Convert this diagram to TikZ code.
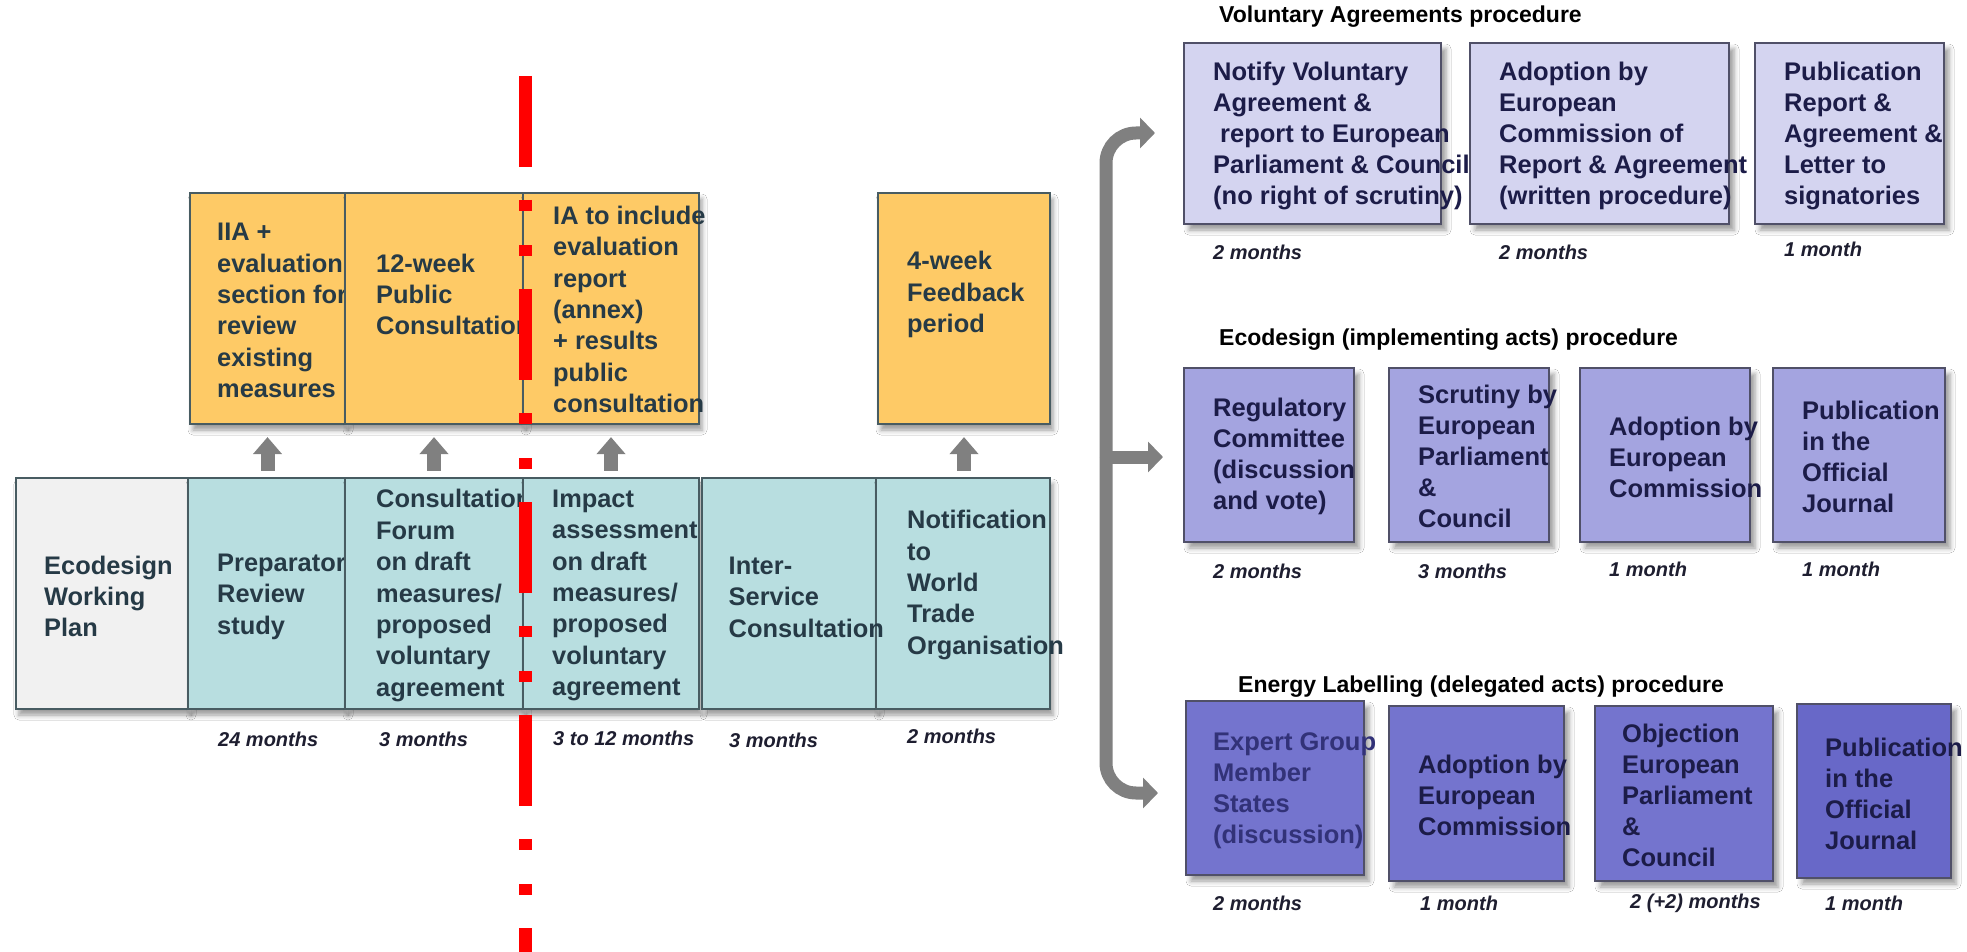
\documentclass[tikz,border=0pt]{standalone}
\usepackage{fontspec}
\setmainfont{Liberation Sans}
\usetikzlibrary{shadows.blur,arrows.meta,calc}

\definecolor{boxorange}{RGB}{254,202,102}
\definecolor{boxteal}{RGB}{184,222,224}
\definecolor{boxgrey}{RGB}{241,241,241}
\definecolor{slate}{RGB}{38,58,70}
\definecolor{slateline}{RGB}{72,92,98}
\definecolor{vafill}{RGB}{212,212,240}
\definecolor{ecfill}{RGB}{164,164,224}
\definecolor{elfill}{RGB}{116,116,206}
\definecolor{elfilldark}{RGB}{104,104,200}
\definecolor{navy}{RGB}{28,28,72}
\definecolor{softnavy}{RGB}{50,50,120}
\definecolor{procline}{RGB}{80,80,104}
\definecolor{arrowgrey}{RGB}{128,128,128}
\definecolor{durcol}{RGB}{30,30,48}

\begin{document}
\begin{tikzpicture}[x=1pt,y=-1pt,
  lbox/.style={draw=slateline, line width=2.2pt, inner sep=0pt,
    blur shadow={shadow xshift=3pt, shadow yshift=-6pt, shadow blur radius=5pt, shadow opacity=40}},
  rbox/.style={draw=procline, line width=1.8pt, inner sep=0pt,
    blur shadow={shadow xshift=5pt, shadow yshift=-6pt, shadow blur radius=5pt, shadow opacity=40}},
  ltext/.style={anchor=west, align=left, inner sep=0pt, text=slate,
    font=\fontsize{25.4}{31.4}\selectfont\bfseries},
  rtext/.style={anchor=west, align=left, inner sep=0pt, text=navy,
    font=\fontsize{25.5}{31}\selectfont\bfseries},
  dur/.style={anchor=west, inner sep=0pt, text=durcol,
    font=\fontsize{20}{24}\selectfont\bfseries\itshape},
  ttl/.style={anchor=west, inner sep=0pt, text=black,
    font=\fontsize{23}{27}\selectfont\bfseries},
  uparr/.style={draw=arrowgrey, line width=14pt,
    -{Triangle[length=17pt,width=28pt]}},
  brk/.style={draw=arrowgrey, line width=13pt, rounded corners=30pt,
    -{Triangle[length=15pt,width=30pt]}},
  redline/.style={draw=red, line width=13pt,
    dash pattern=on 91pt off 33pt on 11pt off 34pt on 11pt off 33pt}
]
\fill[white] (0,0) rectangle (1967,952);
\useasboundingbox (0,0) rectangle (1967,952);

% ---------- top row: consultation documents ----------
\node[lbox, fill=boxorange, minimum width=155, minimum height=231] (iia) at (267.5,308.5) {};
\node[ltext] (t-iia) at (217,310.5) {IIA +\\evaluation\\section for\\review\\existing\\measures};
\node[lbox, fill=boxorange, minimum width=178, minimum height=231] (pubc) at (434,308.5) {};
\node[ltext] (t-pubc) at (376,294.5) {12-week\\Public\\Consultation};
\node[lbox, fill=boxorange, minimum width=176, minimum height=231] (iarep) at (611,308.5) {};
\node[ltext] (t-iarep) at (553,309.5) {IA to include\\evaluation\\report\\(annex)\\+ results\\public\\consultation};
\node[lbox, fill=boxorange, minimum width=172, minimum height=231] (feedback) at (964,308.5) {};
\node[ltext] (t-feedback) at (907,294.5) {4-week\\Feedback\\period};

% ---------- bottom row: main steps ----------
\node[lbox, fill=boxgrey, minimum width=172, minimum height=231] (ewp) at (102,593.5) {};
\node[ltext] (t-ewp) at (44,596.5) {Ecodesign\\Working\\Plan};
\node[lbox, fill=boxteal, minimum width=157, minimum height=231] (prep) at (266.5,593.5) {};
\node[ltext] (t-prep) at (217,596.5) {Preparatory\\Review\\study};
\node[lbox, fill=boxteal, minimum width=178, minimum height=231] (cforum) at (434,593.5) {};
\node[ltext] (t-cforum) at (376,595.5) {Consultation\\Forum\\on draft\\measures/\\proposed\\voluntary\\agreement};
\node[lbox, fill=boxteal, minimum width=176, minimum height=231] (impact) at (611,593.5) {};
\node[ltext] (t-impact) at (552,595.5) {Impact\\assessment\\on draft\\measures/\\proposed\\voluntary\\agreement};
\node[lbox, fill=boxteal, minimum width=174, minimum height=231] (isc) at (789,593.5) {};
\node[lbox, fill=boxteal, minimum width=174, minimum height=231] (wto) at (963,593.5) {};
\node[ltext] (t-isc) at (728.5,597) {Inter-\\Service\\Consultation};
\node[ltext] (t-wto) at (907,585) {Notification\\to\\World\\Trade\\Organisation};

% ---------- arrows between the rows ----------
\draw[uparr] ($(iia.south |- prep.north)+(0,-6)$) -- ($(iia.south)+(0,12)$);
\draw[uparr] ($(pubc.south |- cforum.north)+(0,-6)$) -- ($(pubc.south)+(0,12)$);
\draw[uparr] ($(iarep.south |- impact.north)+(0,-6)$) -- ($(iarep.south)+(0,12)$);
\draw[uparr] ($(feedback.south |- wto.north)+(0,-6)$) -- ($(feedback.south)+(0,12)$);

% ---------- durations, left part ----------
\node[dur] (d-prep) at (218,739) {24 months};
\node[dur] (d-cforum) at (379,739) {3 months};
\node[dur] (d-impact) at (553,738) {3 to 12 months};
\node[dur] (d-isc) at (729,740) {3 months};
\node[dur] (d-wto) at (907,736) {2 months};

% ---------- branching bracket ----------
\coordinate (fork) at (1106,457);
\coordinate (tip-va) at (1155,133);
\coordinate (tip-ec) at (1163,457);
\coordinate (tip-el) at (1158,793);
\draw[brk] (fork) |- (tip-va);
\draw[brk] (fork) |- (tip-el);
\draw[brk] (fork) -- (tip-ec);

% ---------- Voluntary Agreements procedure ----------
\node[ttl] (ttl-va) at (1219,17) {Voluntary Agreements procedure};
\node[rbox, fill=vafill, minimum width=257, minimum height=181] (va1) at (1312.5,133.5) {};
\node[rtext] (t-va1) at (1213,136) {Notify Voluntary\\Agreement \&\\\hspace*{7pt}report to European\\Parliament \& Council\\(no right of scrutiny)};
\node[rbox, fill=vafill, minimum width=259, minimum height=181] (va2) at (1599.5,133.5) {};
\node[rtext] (t-va2) at (1499,136) {Adoption by\\European\\Commission of\\Report \& Agreement\\(written procedure)};
\node[rbox, fill=vafill, minimum width=189, minimum height=181] (va3) at (1849.5,133.5) {};
\node[rtext] (t-va3) at (1784,136) {Publication\\Report \&\\Agreement \&\\Letter to\\signatories};
\node[dur] (d-va1) at (1213,252) {2 months};
\node[dur] (d-va2) at (1499,252) {2 months};
\node[dur] (d-va3) at (1784,249) {1 month};

% ---------- Ecodesign (implementing acts) procedure ----------
\node[ttl] (ttl-ec) at (1219,340) {Ecodesign (implementing acts) procedure};
\node[rbox, fill=ecfill, minimum width=170, minimum height=174] (ec1) at (1269,455) {};
\node[rtext] (t-ec1) at (1213,456) {Regulatory\\Committee\\(discussion\\and vote)};
\node[rbox, fill=ecfill, minimum width=160, minimum height=174] (ec2) at (1469,455) {};
\node[rtext] (t-ec2) at (1418,456.5) {Scrutiny by\\European\\Parliament\\\&\\Council};
\node[rbox, fill=ecfill, minimum width=170, minimum height=174] (ec3) at (1665,455) {};
\node[rtext] (t-ec3) at (1609,457) {Adoption by\\European\\Commission};
\node[rbox, fill=ecfill, minimum width=172, minimum height=174] (ec4) at (1859,455) {};
\node[rtext] (t-ec4) at (1802,457) {Publication\\in the\\Official\\Journal};
\node[dur] (d-ec1) at (1213,571) {2 months};
\node[dur] (d-ec2) at (1418,571) {3 months};
\node[dur] (d-ec3) at (1609,569) {1 month};
\node[dur] (d-ec4) at (1802,569) {1 month};

% ---------- Energy Labelling (delegated acts) procedure ----------
\node[ttl] (ttl-el) at (1238,687) {Energy Labelling (delegated acts) procedure};
\node[rbox, fill=elfill, minimum width=178, minimum height=174] (el1) at (1275,788) {};
\node[rtext, text=softnavy] (t-el1) at (1213,791) {Expert Group\\Member\\States\\(discussion)};
\node[rbox, fill=elfill, minimum width=175, minimum height=175] (el2) at (1476.5,793.5) {};
\node[rtext] (t-el2) at (1418,795) {Adoption by\\European\\Commission};
\node[rbox, fill=elfill, minimum width=178, minimum height=175] (el3) at (1684,793.5) {};
\node[rtext] (t-el3) at (1622,795) {Objection\\European\\Parliament\\\&\\Council};
\node[rbox, fill=elfilldark, minimum width=154, minimum height=174] (el4) at (1874,791) {};
\node[rtext] (t-el4) at (1825,794) {Publication\\in the\\Official\\Journal};
\node[dur] (d-el1) at (1213,903) {2 months};
\node[dur] (d-el2) at (1420,903) {1 month};
\node[dur] (d-el3) at (1630,903) {2 (+2) months};
\node[dur] (d-el4) at (1825,903) {1 month};

% ---------- cut-off marker ----------
\coordinate (red-top) at (525,76);
\coordinate (red-bottom) at (525,952);
\draw[redline] (red-top) -- (red-bottom);
\end{tikzpicture}
\end{document}
